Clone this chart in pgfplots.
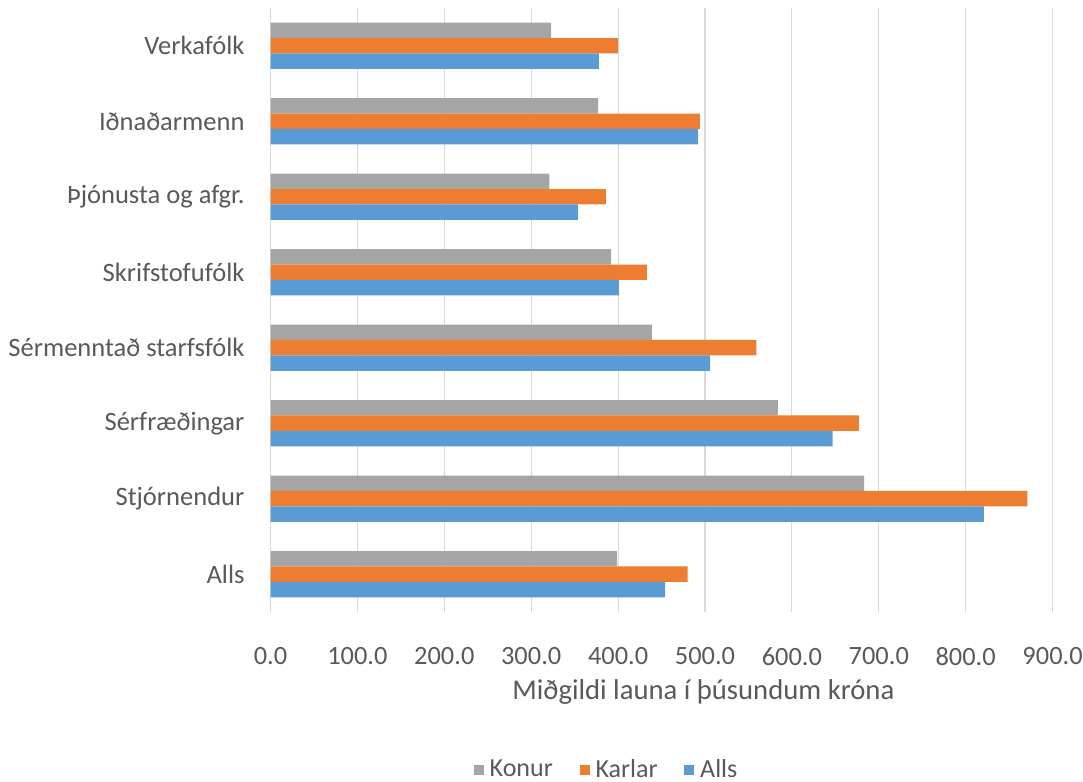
\documentclass[border=0pt]{standalone}
\usepackage{pgfplots}
\pgfplotsset{compat=1.18}
\usepackage{fontspec}
\setmainfont{Carlito}
\definecolor{cgray}{HTML}{A5A5A5}
\definecolor{corange}{HTML}{ED7D31}
\definecolor{cblue}{HTML}{5B9BD5}
\definecolor{ctext}{HTML}{595959}
\definecolor{cgrid}{HTML}{D9D9D9}
\begin{document}
\begin{tikzpicture}
\fontsize{19}{23}\selectfont
\begin{axis}[
  name=ax,
  scale only axis,
  width=609.4pt, height=453pt,
  xbar,
  xmin=0, xmax=935,
  ymin=-0.5, ymax=7.5,
  xtick={0,100,...,900},
  ytick={0,...,7},
  yticklabels={Alls,Stjórnendur,Sérfræðingar,Sérmenntað starfsfólk,Skrifstofufólk,Þjónusta og afgr.,Iðnaðarmenn,Verkafólk},
  xticklabel style={/pgf/number format/fixed,/pgf/number format/fixed zerofill,/pgf/number format/precision=1,/pgf/number format/assume math mode=true, yshift=-20pt, font=\fontsize{19.8}{23}\selectfont},
  yticklabel style={xshift=-13pt, font=\fontsize{19.9}{23}\selectfont},
  tick label style={text=ctext},
  xlabel={Miðgildi launa í þúsundum króna},
  xlabel style={font=\fontsize{21.5}{25}\selectfont, text=ctext, yshift=2pt, xshift=20pt},
  xmajorgrids, grid style={cgrid, line width=0.8pt},
  axis line style={draw=none},
  major tick length=0pt,
  bar width=11.6pt,
  legend columns=3,
  legend style={draw=none, fill=none, at={(0.414,-0.262)}, anchor=center,
    font=\fontsize{19.5}{23}\selectfont, text=ctext,
    /tikz/every even column/.append style={column sep=18pt},
    /tikz/every odd column/.append style={column sep=2.5pt}},
  legend image code/.code={\fill[#1, draw=none] (0pt,-3.5pt) rectangle (7.5pt,4pt);},
  clip=false,
]
\addplot[fill=cgray, draw=none, bar shift=11.6pt] coordinates {
 (399,0) (683,1) (584,2) (439,3) (392,4) (321,5) (377,6) (323,7)};
\addplot[fill=corange, draw=none, bar shift=0pt] coordinates {
 (480,0) (871,1) (677,2) (559,3) (433,4) (386,5) (494,6) (400,7)};
\addplot[fill=cblue, draw=none, bar shift=-11.6pt] coordinates {
 (454,0) (821,1) (647,2) (506,3) (401,4) (354,5) (492,6) (378,7)};
\legend{Konur,Karlar,Alls}
\end{axis}
\pgfresetboundingbox
\path ([shift={(-202.9pt,-127.5pt)}]ax.south west) rectangle ([shift={(609.4pt,459pt)}]ax.south west);
\end{tikzpicture}
\end{document}
